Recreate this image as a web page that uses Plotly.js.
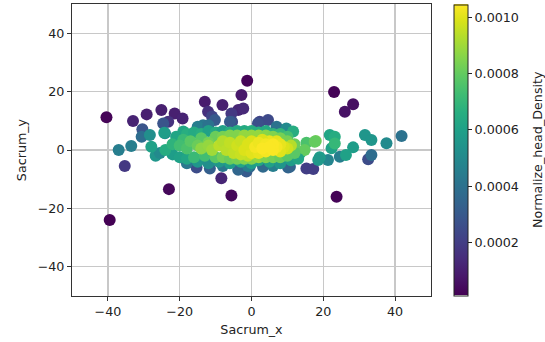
<!DOCTYPE html>
<html>
<head>
<meta charset="utf-8">
<script src="https://cdn.plot.ly/plotly-3.0.1.min.js"></script>
<style>html,body{margin:0;padding:0;background:#fff;}#chart{width:545px;height:342px;}</style>
</head>
<body>
<div id="chart"></div>
<script>
// Points ordered roughly by ascending density (densest drawn on top)
var sacrumX = [
-40.4,-39.5,-1.2,23.0,23.7,-23.0,-5.6,28.3,26.0,-2.8,
-13.0,-8.1,-25.1,-21.4,-29.2,-19.2,-33.0,-8.4,-3.7,-2.3,
-12.1,-23.2,-35.3,-5.6,15.3,17.2,-15.3,32.5,-11.0,-30.4,
-5.4,2.3,4.6,1.8,-24.6,-10.2,-6.0,-11.6,-1.4,-3.7,
10.7,-0.5,3.2,10.2,33.4,-30.6,41.8,-33.5,7.0,-13.5,
-37.0,24.6,21.3,37.6,9.7,-24.1,-28.3,31.6,33.4,-26.7,
-25.5,-24.3,28.3,26.3,19.0,18.6,22.3,21.8,23.2,-19.0,
11.6,13.5,-27.9,23.2,15.3,17.9,17.6,14.8,
-8.0,-1.0,6.0,-18.0,-15.0,-12.0,-21.0,-18.0,-16.0,-14.0,
-12.0,-10.0,-8.0,-6.0,-4.0,-2.0,0.0,2.0,4.0,6.0,8.0,10.0,
-22.0,-20.0,-18.0,-15.0,-12.0,-9.0,-6.0,-3.0,0.0,2.0,5.0,8.0,11.0,13.0,
-24.0,-22.0,-19.0,-16.0,-20.0,-18.0,-13.0,-17.0,-14.0,-15.0,
-10.0,-10.0,-12.0,-8.0,-8.0,-6.0,-6.0,-4.0,-4.0,-2.0,
-2.0,0.0,0.0,2.0,2.0,4.0,4.0,6.0,6.0,8.0,8.0,10.0,10.0,12.0,12.0,
-14.0,-12.0,-11.0,-9.0,-8.0,-7.0,-6.0,-5.0,-1.0,-4.0,
-3.0,-3.0,-2.0,11.0,0.0,10.0,-1.0,9.0,8.0,0.0,
5.0,3.0,2.0,7.0,8.0,1.0,2.0,4.0,4.0,7.0,
3.0,6.0,6.0,5.0
];
var sacrumY = [
11.2,-24.0,23.7,19.9,-16.0,-13.4,-15.6,15.7,13.1,18.8,
16.5,15.4,13.7,12.5,12.2,10.8,9.9,-9.7,13.7,14.2,
13.1,9.7,-5.5,12.5,-6.3,-6.5,-6.0,-3.2,11.5,7.1,
9.7,9.7,10.3,9.1,9.1,10.3,9.7,-6.3,-7.4,-6.8,
-5.7,-5.7,-5.7,-6.0,-1.7,4.5,4.8,1.4,8.0,8.5,
0.0,-2.3,-3.4,2.3,7.4,5.7,5.1,5.1,3.4,-2.0,
-1.0,5.9,0.9,-1.7,-2.5,-3.4,0.6,5.1,4.5,6.3,
6.3,-1.1,1.1,2.2,2.5,3.1,2.8,0.0,
-5.5,-5.5,-5.5,-4.5,8.0,8.5,4.5,5.5,6.0,5.5,
6.5,6.0,6.5,6.0,6.5,6.5,6.5,6.0,6.5,5.5,5.5,4.5,
-1.5,-2.5,-3.0,-4.0,-4.5,-4.0,-4.5,-4.0,-4.5,-3.5,-4.0,-4.5,-3.5,-3.0,
0.0,2.0,3.5,-2.5,1.5,0.5,-2.0,3.0,4.0,1.5,
4.5,-2.5,2.5,4.5,-2.5,5.0,-3.0,5.0,-3.0,5.0,
-3.0,5.0,-3.0,5.0,-2.5,5.0,-2.5,4.5,-2.5,4.0,-2.5,3.0,-2.0,2.0,-1.0,
0.5,1.5,0.0,1.5,3.0,0.0,2.5,-1.0,-2.0,1.5,
-1.5,3.0,0.0,1.5,-1.0,0.5,2.0,1.0,-0.5,3.0,
3.0,3.5,-1.0,3.0,2.0,1.0,2.5,2.0,-0.5,1.0,
0.5,0.0,2.0,1.0
];
var density = [
0.00002,0.00001,0.00002,0.00002,0.00002,0.00003,0.00003,0.00005,0.00006,0.00008,
0.00009,0.00010,0.00010,0.00010,0.00010,0.00011,0.00011,0.00012,0.00012,0.00013,
0.00015,0.00016,0.00018,0.00018,0.00020,0.00020,0.00025,0.00025,0.00022,0.00028,
0.00025,0.00022,0.00024,0.00026,0.00028,0.00030,0.00030,0.00032,0.00030,0.00035,
0.00035,0.00036,0.00036,0.00034,0.00038,0.00038,0.00040,0.00045,0.00040,0.00042,
0.00045,0.00045,0.00048,0.00050,0.00050,0.00050,0.00052,0.00055,0.00055,0.00055,
0.00050,0.00058,0.00058,0.00060,0.00058,0.00056,0.00060,0.00062,0.00065,0.00062,
0.00065,0.00065,0.00060,0.00070,0.00075,0.00082,0.00080,0.00080,
0.00042,0.00045,0.00045,0.00042,0.00045,0.00040,0.00062,0.00066,0.00064,0.00066,
0.00060,0.00064,0.00060,0.00066,0.00064,0.00064,0.00066,0.00066,0.00064,0.00068,0.00070,0.00074,
0.00058,0.00060,0.00062,0.00055,0.00052,0.00056,0.00058,0.00062,0.00058,0.00062,0.00060,0.00055,0.00058,0.00062,
0.00065,0.00068,0.00071,0.00071,0.00073,0.00075,0.00073,0.00078,0.00078,0.00081,
0.00081,0.00078,0.00083,0.00083,0.00083,0.00085,0.00081,0.00085,0.00083,0.00088,
0.00085,0.00088,0.00085,0.00088,0.00088,0.00086,0.00085,0.00085,0.00083,0.00083,0.00081,0.00083,0.00078,0.00081,0.00078,
0.00087,0.00088,0.00090,0.00094,0.00093,0.00094,0.00095,0.00095,0.00095,0.00097,
0.00096,0.00096,0.00099,0.00093,0.00100,0.00097,0.00099,0.00099,0.00100,0.00099,
0.00101,0.00099,0.00101,0.00100,0.00101,0.00103,0.00102,0.00103,0.00103,0.00103,
0.00104,0.00104,0.00104,0.00104
];
var xTicks = [-40,-20,0,20,40];
var yTicks = [-40,-20,0,20,40];
var cbTicks = [0.0002,0.0004,0.0006,0.0008,0.0010];
var cbTickText = ['0.0002','0.0004','0.0006','0.0008','0.0010'];

var FONT = 'DejaVu Sans, sans-serif';
var trace = {
  type:'scatter', mode:'markers', x:sacrumX, y:sacrumY,
  marker:{
    size:12, color:density, colorscale:'Viridis', cmin:0.0000113, cmax:0.001045,
    line:{width:0},
    colorbar:{
      x:1.064, xanchor:'left', xpad:0, ypad:0, y:0.5, yanchor:'middle', len:0.996,
      thickness:14, outlinewidth:1, outlinecolor:'#222',
      tickvals:cbTicks, ticktext:cbTickText, ticks:'outside', ticklen:4, tickwidth:1, tickcolor:'#222',
      tickfont:{family:FONT, size:12.7, color:'#222'}
    }
  },
  showlegend:false, hoverinfo:'none'
};
var axisCommon = {
  showgrid:true, gridcolor:'#c8c8c8', gridwidth:1.3, zeroline:false,
  showline:true, mirror:true, linecolor:'#333', linewidth:1,
  ticks:'outside', ticklen:4, tickwidth:1, tickcolor:'#333',
  tickfont:{family:FONT, size:12.7, color:'#222'}, automargin:false
};
var layout = {
  width:545, height:342, paper_bgcolor:'#fff', plot_bgcolor:'#fff',
  margin:{l:72, r:114, t:4, b:46},
  xaxis:Object.assign({}, axisCommon, {range:[-50,50], tickvals:xTicks, title:{text:'Sacrum_x', font:{family:FONT,size:12.7,color:'#222'}, standoff:6}}),
  yaxis:Object.assign({}, axisCommon, {range:[-50,50], tickvals:yTicks, title:{text:'Sacrum_y', font:{family:FONT,size:12.7,color:'#222'}, standoff:8}}),
  annotations:[{
    text:'Normalize_head_Density', textangle:-90, xref:'paper', yref:'paper',
    x:(537-72)/359, y:0.5, xanchor:'center', yanchor:'middle', showarrow:false,
    font:{family:FONT, size:12.7, color:'#222'}
  }]
};
Plotly.newPlot('chart',[trace],layout,{displayModeBar:false, staticPlot:true});
</script>
</body>
</html>
